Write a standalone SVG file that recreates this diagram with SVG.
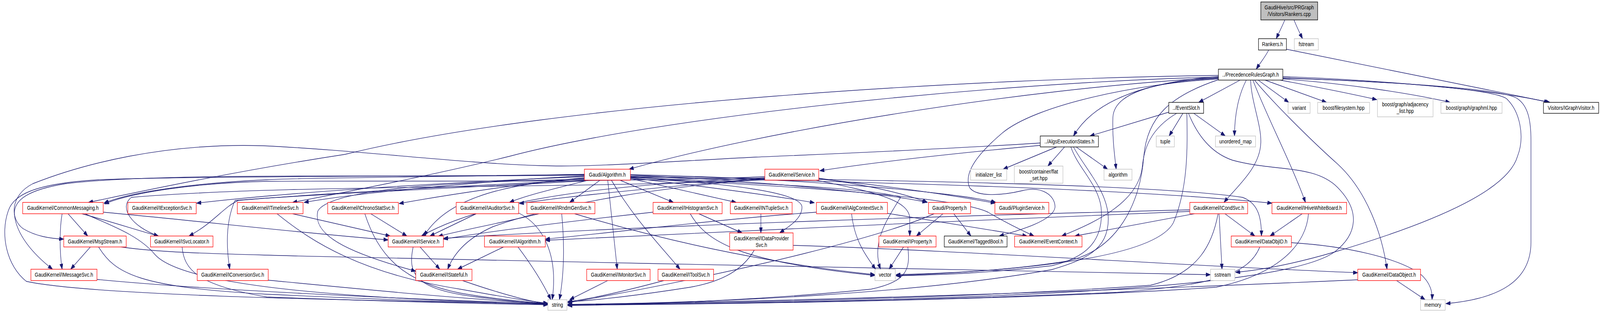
<svg xmlns="http://www.w3.org/2000/svg" width="4868" height="801" viewBox="0 0 4868 801">
<style>
.n rect{fill:#fff;stroke-width:1.4}
.r rect{stroke:#ff0000}
.g rect{stroke:#bfbfbf}
.k rect{stroke:#000}
text{font-family:"Liberation Sans",Arial,sans-serif;font-size:14px;text-anchor:middle;fill:#000}
#edges path{fill:none;stroke:#191970;stroke-width:1.35;marker-end:url(#a)}
#all{transform-origin:0 0}
@media (max-width:4800px){#all{transform:scale(0.84141,1)}}
</style>
<defs>
<marker id="a" viewBox="0 0 14 10" refX="14" refY="5" markerWidth="14" markerHeight="10" markerUnits="userSpaceOnUse" orient="auto"><path d="M0,0 L14,5 L0,10 z" fill="#191970" stroke="#191970" stroke-width="1"/></marker>
</defs>
<rect width="4868" height="801" fill="#fff"/>
<g id="all">
<g id="edges">
<path d="M3909,51 C3902,66 3893,80 3883,99"/>
<path d="M3937,51 C3944,66 3953,82 3963,99"/>
<path d="M3860,128 C3850,145 3835,160 3822,177"/>
<path d="M3914,126 L4716,262"/>
<path d="M3903,196 C4200,205 4550,230 4712,262"/>
<path d="M3903,199 C4300,212 4560,228 4612,250 C4650,268 4658,310 4658,360 L4658,620 C4658,720 4560,765 4399,777"/>
<path d="M3903,200 C4300,210 4540,230 4583,252 C4625,285 4640,350 4617,400 C4590,480 4400,560 4060,645 C3950,672 3850,690 3759,697"/>
<path d="M3817,205 C3870,260 3990,360 4070,420 C4160,490 4205,600 4220,689"/>
<path d="M3812,205 C3850,290 3930,420 3972,518"/>
<path d="M3805,205 C3807,260 3838,320 3836,365 C3834,430 3760,480 3724,518"/>
<path d="M3773,205 L3647,262"/>
<path d="M3792,205 C3770,240 3756,290 3756,348"/>
<path d="M3828,205 L3921,262"/>
<path d="M3849,205 L4036,262"/>
<path d="M3895,205 C3990,220 4100,238 4189,255"/>
<path d="M3903,202 C4100,214 4300,240 4412,262"/>
<path d="M3707,193 C3000,200 1700,260 1050,395 C700,440 400,495 269,518"/>
<path d="M3707,197 C3000,212 2000,300 1550,400 C1300,452 1000,500 890,518"/>
<path d="M3707,199 C3100,225 2300,340 1914,433"/>
<path d="M3707,196 C3450,212 3320,270 3266,348"/>
<path d="M3707,200 C3500,210 3390,240 3386,300 C3384,350 3390,390 3396,433"/>
<path d="M3707,202 C3450,215 3150,270 3050,340 C2980,390 2930,440 2950,480 C2970,505 3050,500 3110,488 C3170,475 3210,500 3210,530 C3205,565 3100,590 3040,604"/>
<path d="M3707,204 C3560,245 3490,300 3480,400 C3470,520 3400,640 3248,668 C3050,695 2850,700 2726,703"/>
<path d="M3556,287 L3316,348"/>
<path d="M3580,290 C3500,330 3480,380 3475,430 C3460,520 3330,570 3230,604"/>
<path d="M3599,290 L3557,348"/>
<path d="M3632,290 L3728,348"/>
<path d="M3611,290 C3613,380 3615,480 3570,570 C3520,650 3200,690 2726,705"/>
<path d="M3616,290 C3640,340 3680,390 3750,410 C3880,440 4000,420 4070,480 C4140,540 4130,600 4060,645 C3900,740 3000,770 1727,781"/>
<path d="M3274,376 L3370,433"/>
<path d="M3258,376 C3280,430 3340,470 3350,530 C3360,620 3300,660 3200,680 C3000,700 2850,703 2726,706"/>
<path d="M3266,376 C3300,430 3372,490 3372,560 C3372,640 3300,665 3200,690 C2800,750 2200,775 1727,779"/>
<path d="M3165,372 C3000,385 2700,410 2494,437"/>
<path d="M3165,366 C2800,385 2500,395 2300,402 C2000,415 1800,428 1650,424 C1400,418 1100,385 800,373 C500,365 250,420 100,470 C30,500 30,560 70,585 C110,605 150,610 194,612"/>
<path d="M3215,376 L3052,433"/>
<path d="M3239,376 L3188,425"/>
<path d="M1778,446 C1400,452 900,455 812,460 C600,468 400,490 316,520"/>
<path d="M1778,452 C1400,465 900,490 598,520"/>
<path d="M1778,450 C1500,462 1100,492 925,518"/>
<path d="M1778,455 C1600,468 1350,500 1214,521"/>
<path d="M1790,461 C1700,480 1600,500 1550,518"/>
<path d="M1826,461 L1733,518"/>
<path d="M1886,461 L2049,518"/>
<path d="M1918,457 L2240,518"/>
<path d="M1918,452 C2200,470 2440,490 2440,530 C2440,560 2400,580 2372,596"/>
<path d="M1849,461 L1878,689"/>
<path d="M1860,461 C1930,560 2000,620 2069,689"/>
<path d="M1778,457 C1500,470 1350,520 1290,604"/>
<path d="M1778,459 C1300,465 1000,490 967,540 C950,600 1050,645 1265,694"/>
<path d="M1778,461 C1300,480 900,500 725,513 C680,530 650,570 575,604"/>
<path d="M1778,463 C1300,485 900,500 715,513 C690,560 686,620 699,689"/>
<path d="M1778,448 C1200,455 500,440 200,470 C90,485 40,510 44,550 C50,600 100,650 160,689"/>
<path d="M1778,447 C1300,452 600,450 300,460 C100,470 40,500 25,540 C0,600 20,680 80,720 C300,760 1200,770 1667,778"/>
<path d="M1918,454 C2300,470 2650,480 2740,505 C2700,560 2650,620 2679,689"/>
<path d="M1918,448 C2300,462 2700,495 2820,518"/>
<path d="M1918,447 C2400,455 2900,490 3030,518"/>
<path d="M1918,455 C2150,478 2350,500 2478,519"/>
<path d="M1918,458 C2300,470 2900,500 3006,543 C3060,570 3110,590 3146,604"/>
<path d="M1918,451 C2600,460 3500,470 3780,505 C3830,520 3838,560 3838,604"/>
<path d="M1918,453 C2600,465 3400,480 3870,520"/>
<path d="M2327,452 C1900,468 1200,462 812,464 C600,468 400,492 318,522"/>
<path d="M2327,456 C2000,480 1700,505 1580,521"/>
<path d="M2327,455 C1900,472 1500,500 1282,604"/>
<path d="M2327,458 C2000,480 1700,520 1500,580 C1420,610 1380,650 1362,689"/>
<path d="M2327,460 C1700,485 900,470 400,505 C360,530 400,580 482,604"/>
<path d="M2483,461 C2650,490 2768,510 2768,560 L2768,604"/>
<path d="M2491,456 C2650,475 2750,495 2822,518"/>
<path d="M2491,458 C2700,475 2900,500 3028,520"/>
<path d="M207,547 L267,604"/>
<path d="M189,547 C182,580 180,640 189,689"/>
<path d="M249,547 C350,570 420,590 482,604"/>
<path d="M259,547 C330,575 420,600 470,650 C540,720 900,760 1667,779"/>
<path d="M314,543 C600,565 900,595 1181,614"/>
<path d="M890,547 L1187,604"/>
<path d="M843,547 C950,620 1100,700 1400,740 C1500,755 1600,770 1667,776"/>
<path d="M1128,547 L1238,604"/>
<path d="M1110,547 C1150,650 1220,720 1400,750 C1500,765 1600,772 1667,777"/>
<path d="M1449,547 L1308,604"/>
<path d="M1578,545 C1650,575 1700,650 1680,767"/>
<path d="M1640,547 C1500,575 1400,590 1333,605"/>
<path d="M1709,547 C1717,620 1717,700 1702,767"/>
<path d="M1748,547 C2000,610 2300,670 2662,703"/>
<path d="M2126,547 L2258,596"/>
<path d="M2100,547 C2150,620 2250,670 2662,705"/>
<path d="M1987,543 C1800,560 1500,590 1349,612"/>
<path d="M2315,547 L2315,596"/>
<path d="M2591,547 C2600,620 2640,660 2664,689"/>
<path d="M2700,546 L3125,604"/>
<path d="M2484,543 C2200,560 1900,592 1659,612"/>
<path d="M2869,547 L2788,604"/>
<path d="M2902,547 L2954,604"/>
<path d="M2842,547 C2700,600 2300,690 1727,775"/>
<path d="M3620,537 C3000,550 2000,575 1349,610"/>
<path d="M3620,541 C3000,560 2200,595 1659,615"/>
<path d="M3634,547 L3270,604"/>
<path d="M3727,547 L3818,604"/>
<path d="M3709,547 L3718,689"/>
<path d="M3706,547 C3690,620 3650,700 3500,730 C3000,760 2300,775 1727,779"/>
<path d="M3962,547 L3864,604"/>
<path d="M3981,547 C3975,620 3900,700 3700,735 C3200,765 2300,778 1727,781"/>
<path d="M275,632 L215,689"/>
<path d="M300,632 C350,700 420,735 812,753 C1200,768 1500,776 1667,779"/>
<path d="M368,632 C500,648 700,650 900,655 C1800,670 3000,695 3683,703"/>
<path d="M554,632 C560,690 600,730 812,760 C1200,772 1500,778 1667,780"/>
<path d="M1278,632 L1338,689"/>
<path d="M1257,632 C1240,700 1260,740 1450,760 C1550,770 1620,776 1667,779"/>
<path d="M1532,632 L1392,689"/>
<path d="M1576,632 C1610,670 1650,720 1676,767"/>
<path d="M2295,640 C2260,690 2200,720 2100,735 C1950,755 1800,770 1727,772"/>
<path d="M2413,628 C2900,640 3600,680 4131,698"/>
<path d="M2749,632 L2705,689"/>
<path d="M2762,632 C2770,690 2760,720 2650,740 C2300,770 1900,780 1727,782"/>
<path d="M3833,632 C3800,700 3700,730 3400,748 C2800,770 2200,778 1727,780"/>
<path d="M3929,621 C4100,630 4250,660 4320,700 C4355,725 4358,750 4357,767"/>
<path d="M295,715 C600,740 1200,765 1667,777"/>
<path d="M816,717 C1100,740 1400,765 1667,777"/>
<path d="M1407,718 C1500,745 1600,770 1667,778"/>
<path d="M1849,718 L1733,767"/>
<path d="M2020,718 C1900,745 1800,765 1727,772"/>
<path d="M4249,718 L4336,767"/>
<path d="M4131,716 C3500,740 2500,770 1727,779"/>
</g>
<g id="n1" class="n k"><rect x="3836" y="5" width="173" height="46" style="fill:#bfbfbf"/><text x="3922.5" y="24">GaudiHive/src/PRGraph</text><text x="3922.5" y="41">/Visitors/Rankers.cpp</text></g>
<g id="n2" class="n k"><rect x="3829" y="99" width="85" height="29"/><text x="3871.5" y="118">Rankers.h</text></g>
<g id="n3" class="n g"><rect x="3938" y="99" width="73" height="29"/><text x="3974.5" y="118">fstream</text></g>
<g id="n4" class="n k"><rect x="3707" y="177" width="196" height="28"/><text x="3805" y="196">../PrecedenceRulesGraph.h</text></g>
<g id="n5" class="n k"><rect x="4696" y="262" width="168" height="28"/><text x="4780" y="281">Visitors/IGraphVisitor.h</text></g>
<g id="n6" class="n k"><rect x="3556" y="262" width="106" height="28"/><text x="3609" y="281">../EventSlot.h</text></g>
<g id="n7" class="n g"><rect x="3919" y="262" width="67" height="28"/><text x="3952.5" y="281">variant</text></g>
<g id="n8" class="n g"><rect x="4009" y="262" width="158" height="28"/><text x="4088" y="281">boost/filesystem.hpp</text></g>
<g id="n9" class="n g"><rect x="4191" y="253" width="169" height="46"/><text x="4275.5" y="272">boost/graph/adjacency</text><text x="4275.5" y="289">_list.hpp</text></g>
<g id="n10" class="n g"><rect x="4384" y="262" width="186" height="28"/><text x="4477" y="281">boost/graph/graphml.hpp</text></g>
<g id="n11" class="n k"><rect x="3165" y="348" width="177" height="28"/><text x="3253.5" y="367">../AlgsExecutionStates.h</text></g>
<g id="n12" class="n g"><rect x="3518" y="348" width="55" height="28"/><text x="3545.5" y="367">tuple</text></g>
<g id="n13" class="n g"><rect x="3698" y="348" width="122" height="28"/><text x="3759" y="367">unordered_map</text></g>
<g id="n14" class="n r"><rect x="1778" y="433" width="140" height="28"/><text x="1848" y="452">Gaudi/Algorithm.h</text></g>
<g id="n15" class="n r"><rect x="2327" y="433" width="164" height="28"/><text x="2409" y="452">GaudiKernel/Service.h</text></g>
<g id="n16" class="n g"><rect x="2953" y="433" width="110" height="28"/><text x="3008" y="452">initializer_list</text></g>
<g id="n17" class="n g"><rect x="3086" y="425" width="148" height="44"/><text x="3160" y="444">boost/container/flat</text><text x="3160" y="461">_set.hpp</text></g>
<g id="n18" class="n g"><rect x="3359" y="433" width="85" height="28"/><text x="3401.5" y="452">algorithm</text></g>
<g id="n19" class="n r"><rect x="69" y="518" width="245" height="29"/><text x="191.5" y="537">GaudiKernel/CommonMessaging.h</text></g>
<g id="n20" class="n r"><rect x="389" y="518" width="208" height="29"/><text x="493" y="537">GaudiKernel/IExceptionSvc.h</text></g>
<g id="n21" class="n r"><rect x="722" y="518" width="200" height="29"/><text x="822" y="537">GaudiKernel/ITimelineSvc.h</text></g>
<g id="n22" class="n r"><rect x="997" y="518" width="215" height="29"/><text x="1104.5" y="537">GaudiKernel/IChronoStatSvc.h</text></g>
<g id="n23" class="n r"><rect x="1388" y="518" width="190" height="29"/><text x="1483" y="537">GaudiKernel/IAuditorSvc.h</text></g>
<g id="n24" class="n r"><rect x="1603" y="518" width="207" height="29"/><text x="1706.5" y="537">GaudiKernel/IRndmGenSvc.h</text></g>
<g id="n25" class="n r"><rect x="1987" y="518" width="210" height="29"/><text x="2092" y="537">GaudiKernel/IHistogramSvc.h</text></g>
<g id="n26" class="n r"><rect x="2222" y="518" width="188" height="29"/><text x="2316" y="537">GaudiKernel/INTupleSvc.h</text></g>
<g id="n27" class="n r"><rect x="2484" y="518" width="216" height="29"/><text x="2592" y="537">GaudiKernel/IAlgContextSvc.h</text></g>
<g id="n28" class="n r"><rect x="2825" y="518" width="128" height="29"/><text x="2889" y="537">Gaudi/Property.h</text></g>
<g id="n29" class="n r"><rect x="3027" y="518" width="164" height="29"/><text x="3109" y="537">Gaudi/PluginService.h</text></g>
<g id="n30" class="n r"><rect x="3620" y="518" width="176" height="29"/><text x="3708" y="537">GaudiKernel/ICondSvc.h</text></g>
<g id="n31" class="n r"><rect x="3870" y="518" width="227" height="29"/><text x="3983.5" y="537">GaudiKernel/IHiveWhiteBoard.h</text></g>
<g id="n32" class="n r"><rect x="194" y="604" width="190" height="28"/><text x="289" y="623">GaudiKernel/MsgStream.h</text></g>
<g id="n33" class="n r"><rect x="458" y="604" width="190" height="28"/><text x="553" y="623">GaudiKernel/ISvcLocator.h</text></g>
<g id="n34" class="n r"><rect x="1181" y="604" width="168" height="28"/><text x="1265" y="623">GaudiKernel/IService.h</text></g>
<g id="n35" class="n r"><rect x="1474" y="604" width="185" height="28"/><text x="1566.5" y="623">GaudiKernel/IAlgorithm.h</text></g>
<g id="n36" class="n r"><rect x="2220" y="596" width="193" height="44"/><text x="2316.5" y="615">GaudiKernel/IDataProvider</text><text x="2316.5" y="632">Svc.h</text></g>
<g id="n37" class="n r"><rect x="2674" y="604" width="174" height="28"/><text x="2761" y="623">GaudiKernel/IProperty.h</text></g>
<g id="n38" class="n k"><rect x="2873" y="604" width="191" height="28"/><text x="2968.5" y="623">GaudiKernel/TaggedBool.h</text></g>
<g id="n39" class="n r"><rect x="3087" y="604" width="205" height="28"/><text x="3189.5" y="623">GaudiKernel/EventContext.h</text></g>
<g id="n40" class="n r"><rect x="3746" y="604" width="183" height="28"/><text x="3837.5" y="623">GaudiKernel/DataObjID.h</text></g>
<g id="n41" class="n r"><rect x="94" y="689" width="201" height="29"/><text x="194.5" y="708">GaudiKernel/IMessageSvc.h</text></g>
<g id="n42" class="n r"><rect x="600" y="689" width="216" height="29"/><text x="708" y="708">GaudiKernel/IConversionSvc.h</text></g>
<g id="n43" class="n r"><rect x="1265" y="689" width="171" height="29"/><text x="1350.5" y="708">GaudiKernel/IStateful.h</text></g>
<g id="n44" class="n r"><rect x="1785" y="689" width="193" height="29"/><text x="1881.5" y="708">GaudiKernel/IMonitorSvc.h</text></g>
<g id="n45" class="n r"><rect x="2002" y="689" width="169" height="29"/><text x="2086.5" y="708">GaudiKernel/IToolSvc.h</text></g>
<g id="n46" class="n g"><rect x="2662" y="689" width="62" height="29"/><text x="2693" y="708">vector</text></g>
<g id="n47" class="n g"><rect x="3683" y="689" width="74" height="29"/><text x="3720" y="708">sstream</text></g>
<g id="n48" class="n r"><rect x="4131" y="689" width="191" height="29"/><text x="4226.5" y="708">GaudiKernel/DataObject.h</text></g>
<g id="n49" class="n g"><rect x="1667" y="767" width="58" height="27"/><text x="1696" y="785">string</text></g>
<g id="n50" class="n g"><rect x="4322" y="767" width="75" height="27"/><text x="4359.5" y="785">memory</text></g>
</g>
</svg>
